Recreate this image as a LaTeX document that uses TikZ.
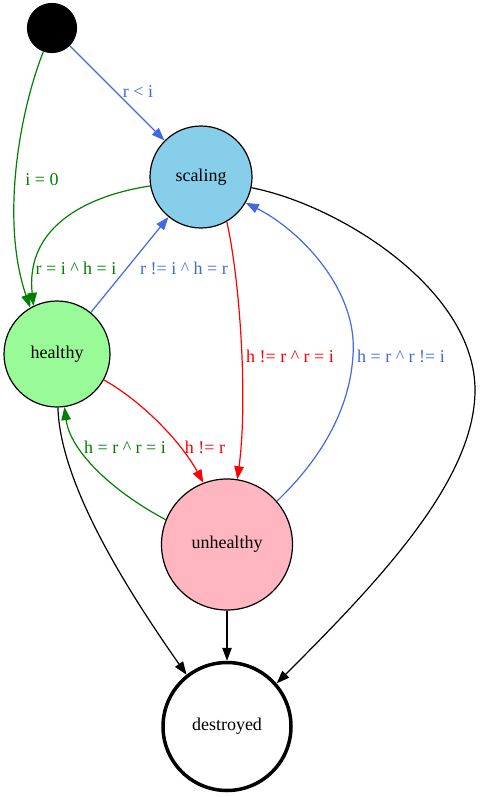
\documentclass[tikz,border=0pt]{standalone}
\usepackage{fontspec}
\setmainfont{Liberation Serif}
\usetikzlibrary{arrows.meta}
\definecolor{rblue}{RGB}{65,105,225}
\definecolor{gvgreen}{RGB}{0,128,0}
\definecolor{gvred}{RGB}{255,0,0}
\definecolor{skyb}{RGB}{135,206,235}
\definecolor{paleg}{RGB}{152,251,152}
\definecolor{lpink}{RGB}{255,182,193}
\tikzset{
  state/.style={circle,draw=black,line width=1.2pt,inner sep=0pt,font=\fontsize{18}{20}\selectfont},
  edge/.style={line width=1.2pt,-{Triangle[length=13pt,width=9.5pt]}},
  lbl/.style={font=\fontsize{18}{20}\selectfont,inner sep=0pt},
}
\begin{document}
\begin{tikzpicture}[x=1pt,y=-1pt]
\useasboundingbox (0,0) rectangle (481,797);
\node[state,fill=black,minimum size=49pt] (start) at (52,28) {};
\node[state,fill=skyb,minimum size=102pt] (scaling) at (201,177) {scaling};
\node[state,fill=paleg,minimum size=106pt] (healthy) at (57,354) {healthy};
\node[state,fill=lpink,minimum size=131pt] (unhealthy) at (227,544.5) {unhealthy};
\node[state,line width=3.5pt,minimum size=128pt] (destroyed) at (227,726.5) {destroyed};

% start -> scaling
\draw[edge,rblue] (start) -- (scaling);
\node[lbl,text=rblue] (l1) at (138,92) {r < i};
% start -> healthy
\draw[edge,gvgreen] (start.250) .. controls (20,110) and (0,220) .. (healthy.120);
\node[lbl,text=gvgreen] (l2) at (42,180) {i = 0};
% scaling -> healthy
\draw[edge,gvgreen] (scaling.190) .. controls (90,195) and (25,225) .. (healthy.116);
\node[lbl,text=gvgreen] (l3) at (76,268) {r = i \textasciicircum{} h = i};
% healthy -> scaling
\draw[edge,rblue] (healthy) -- (scaling);
\node[lbl,text=rblue] (l4) at (184,268) {r != i \textasciicircum{} h = r};
% scaling -> unhealthy
\draw[edge,gvred] (scaling.-60) .. controls (240,280) and (248,400) .. (unhealthy.81);
\node[lbl,text=gvred] (l5) at (290,356) {h != r \textasciicircum{} r = i};
% unhealthy -> scaling
\coordinate (m6) at (353,355);
\draw[edge,rblue] (unhealthy.41) .. controls (320,460) and (350,410) .. (m6)
  .. controls (358,290) and (300,230) .. (scaling.-30);
\node[lbl,text=rblue] (l6) at (401,356) {h = r \textasciicircum{} r != i};
% scaling -> destroyed
\coordinate (m7) at (475,390);
\draw[edge,black] (scaling.-12) .. controls (340,205) and (475,290) .. (m7)
  .. controls (475,480) and (380,580) .. (destroyed.41);
% healthy -> unhealthy
\draw[edge,gvred] (healthy.-29) .. controls (140,400) and (180,440) .. (unhealthy.111);
\node[lbl,text=gvred] (l8) at (205,447) {h != r};
% unhealthy -> healthy
\draw[edge,gvgreen] (unhealthy.158) .. controls (110,490) and (70,450) .. (healthy.-82);
\node[lbl,text=gvgreen] (l9) at (125,447) {h = r \textasciicircum{} r = i};
% healthy -> destroyed
\draw[edge,black] (healthy.-89) .. controls (60,480) and (120,580) .. (destroyed.128);
% unhealthy -> destroyed
\draw[edge,black] (unhealthy) -- (destroyed);
\end{tikzpicture}
\end{document}
